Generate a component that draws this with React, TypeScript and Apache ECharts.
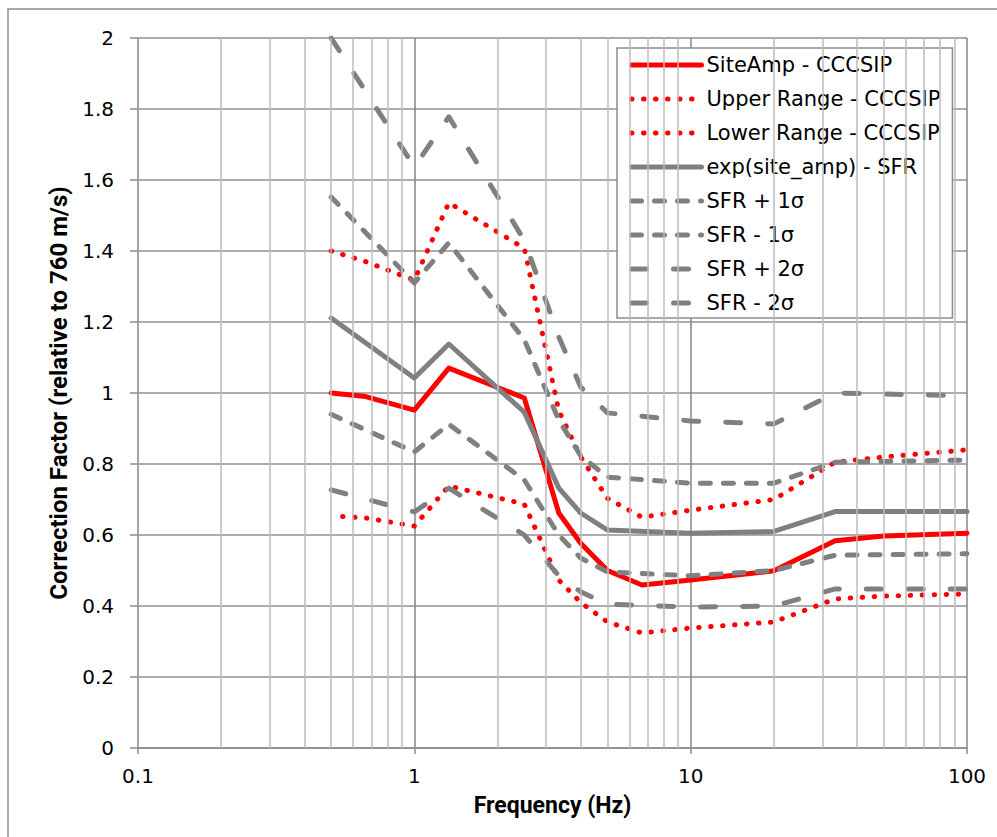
import React, { useEffect, useRef } from "react";
import * as echarts from "echarts";

// Frequencies (Hz)
const freqCCCSIP = [0.5, 0.667, 1, 1.333, 2.5, 3.333, 4, 5, 6.667, 10, 20, 33.33, 50, 100];
const freqLower = [0.55, 0.667, 1, 1.333, 2.5, 3.333, 4, 5, 6.667, 10, 20, 33.33, 50, 100];
const freqSFR = [0.5, 1, 1.333, 2.5, 3.333, 4, 5, 10, 20, 33.33, 100];

// CCCSIP series
const siteAmp = [1.0, 0.99, 0.952, 1.07, 0.986, 0.662, 0.577, 0.5, 0.459, 0.473, 0.499, 0.584, 0.597, 0.605];
const upperRange = [1.4, 1.37, 1.318, 1.536, 1.408, 0.95, 0.82, 0.703, 0.65, 0.67, 0.7, 0.805, 0.82, 0.84];
const lowerRange = [0.652, 0.648, 0.625, 0.738, 0.687, 0.473, 0.41, 0.355, 0.324, 0.338, 0.355, 0.42, 0.428, 0.434];

// SFR series
const sfrMedian = [1.211, 1.042, 1.138, 0.946, 0.732, 0.662, 0.614, 0.605, 0.61, 0.666, 0.666];
const sfrPlus1 = [1.552, 1.31, 1.423, 1.15, 0.924, 0.823, 0.763, 0.746, 0.746, 0.805, 0.811];
const sfrMinus1 = [0.94, 0.834, 0.912, 0.755, 0.6, 0.535, 0.496, 0.485, 0.5, 0.543, 0.547];
const sfrPlus2 = [2.0, 1.637, 1.778, 1.43, 1.158, 1.017, 0.944, 0.921, 0.913, 1.0, 0.992];
const sfrMinus2 = [0.727, 0.665, 0.732, 0.6, 0.485, 0.44, 0.405, 0.397, 0.4, 0.448, 0.448];

const seriesNames = [
  "SiteAmp - CCCSIP",
  "Upper Range - CCCSIP",
  "Lower Range - CCCSIP",
  "exp(site_amp) - SFR",
  "SFR + 1σ",
  "SFR - 1σ",
  "SFR + 2σ",
  "SFR - 2σ",
];

const minorGridFreqs = [
  0.2, 0.3, 0.4, 0.5, 0.6, 0.7, 0.8, 0.9,
  2, 3, 4, 5, 6, 7, 8, 9,
  20, 30, 40, 50, 60, 70, 80, 90,
];

const pairs = (xs: number[], ys: number[]) => xs.map((x, i) => [x, ys[i]]);

const RED = "#FF0000";
const GRAY = "#808080";
const FONT = "DejaVu Sans";
const TITLE_FONT = "Roboto";

export default function App() {
  const ref = useRef<HTMLDivElement>(null);

  useEffect(() => {
    const chart = echarts.init(ref.current!, null, { renderer: "svg" });

    const mk = (name: string, xs: number[], ys: number[], color: string, type: any) => ({
      name,
      type: "line",
      data: pairs(xs, ys),
      symbol: "none",
      showSymbol: false,
      z: 3,
      itemStyle: { color },
      lineStyle: { color, width: 5, type, cap: "round", join: "round" },
      emphasis: { disabled: true },
    });

    const option: any = {
      animation: false,
      backgroundColor: "#ffffff",
      grid: { left: 138, right: 30, top: 38, bottom: 89, containLabel: false },
      xAxis: {
        type: "log",
        logBase: 10,
        min: 0.1,
        max: 100,
        name: "Frequency (Hz)",
        nameLocation: "middle",
        nameGap: 46,
        nameTextStyle: { fontFamily: TITLE_FONT, fontWeight: "bold", fontSize: 23, color: "#000" },
        axisLine: { show: true, lineStyle: { color: "#8c8c8c", width: 1.5 } },
        axisTick: { show: true, length: 6, lineStyle: { color: "#8c8c8c", width: 1.5 } },
        axisLabel: { fontFamily: FONT, fontSize: 20, color: "#000", margin: 18 },
        splitLine: { show: true, lineStyle: { color: "#858585", width: 1.5 } },
      },
      yAxis: {
        type: "value",
        min: 0,
        max: 2,
        interval: 0.2,
        name: "Correction Factor (relative to 760 m/s)",
        nameLocation: "middle",
        nameGap: 64,
        nameTextStyle: { fontFamily: TITLE_FONT, fontWeight: "bold", fontSize: 24, color: "#000" },
        axisLine: { show: true, lineStyle: { color: "#a6a6a6", width: 1.5 } },
        axisTick: { show: true, length: 8, inside: false, lineStyle: { color: "#8c8c8c", width: 1.5 } },
        axisLabel: { fontFamily: FONT, fontSize: 20, color: "#000", margin: 24 },
        splitLine: { show: true, lineStyle: { color: "#8f8f8f", width: 1.5 } },
      },
      legend: {
        orient: "vertical",
        left: 617,
        top: 48,
        padding: [5, 12, 3, 12],
        itemGap: 10,
        itemWidth: 70,
        itemHeight: 14,
        backgroundColor: "#ffffff",
        borderColor: "#8c8c8c",
        borderWidth: 1.5,
        data: seriesNames,
        itemStyle: { color: "rgba(0,0,0,0)", borderColor: "rgba(0,0,0,0)", borderWidth: 0 },
        lineStyle: { width: 5, cap: "round" },
        textStyle: { fontFamily: FONT, fontSize: 21, color: "#000", lineHeight: 24 },
      },
      graphic: [
        {
          type: "rect",
          silent: true,
          z: 100,
          shape: { x: 8, y: 9, width: 1100, height: 1000 },
          style: { fill: "none", stroke: "#8c8c8c", lineWidth: 1.5 },
        },
      ],
      series: [
        {
          name: "minor-grid",
          type: "line",
          data: [],
          z: 1,
          silent: true,
          markLine: {
            silent: true,
            symbol: ["none", "none"],
            label: { show: false },
            animation: false,
            lineStyle: { color: "#bdbdbd", width: 1.5, type: "solid" },
            emphasis: { disabled: true },
            data: minorGridFreqs.map((v) => ({ xAxis: v })),
          },
        },
        mk(seriesNames[0], freqCCCSIP, siteAmp, RED, "solid"),
        mk(seriesNames[1], freqCCCSIP, upperRange, RED, [0.5, 11.5]),
        mk(seriesNames[2], freqLower, lowerRange, RED, [0.5, 11.5]),
        mk(seriesNames[3], freqSFR, sfrMedian, GRAY, "solid"),
        mk(seriesNames[4], freqSFR, sfrPlus1, GRAY, [10, 13]),
        mk(seriesNames[5], freqSFR, sfrMinus1, GRAY, [10, 13]),
        mk(seriesNames[6], freqSFR, sfrPlus2, GRAY, [15, 27]),
        mk(seriesNames[7], freqSFR, sfrMinus2, GRAY, [15, 27]),
      ],
    };

    chart.setOption(option);
    return () => chart.dispose();
  }, []);

  return (
    <div
      ref={ref}
      style={{ position: "absolute", left: 0, top: 0, width: 997, height: 837, background: "#fff" }}
    />
  );
}
